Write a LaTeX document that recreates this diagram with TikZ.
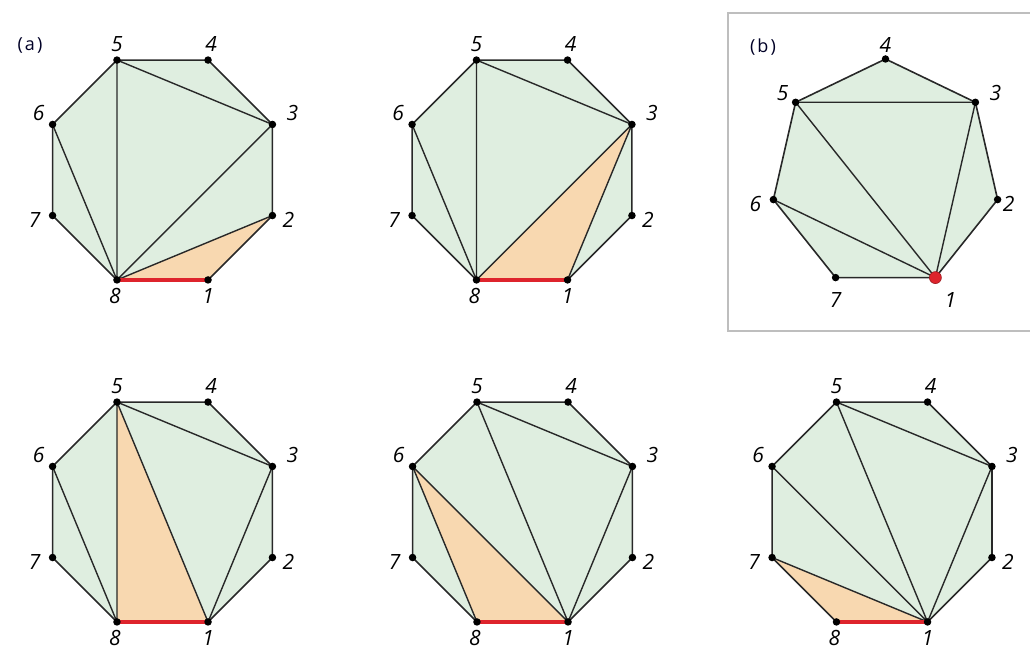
\documentclass[tikz,border=0pt]{standalone}
\usepackage{fontspec}
\usepackage{xcolor}
\usepackage{tikz}
\newfontfamily\labelfont{Open Sans}
\definecolor{polygreen}{RGB}{223,238,224}
\definecolor{triorange}{RGB}{248,216,176}
\definecolor{rootred}{RGB}{222,36,44}
\definecolor{edgegray}{RGB}{40,40,40}
\definecolor{framegray}{RGB}{190,190,190}

\begin{document}
\begin{tikzpicture}[
    x=1pt,y=1pt,
    region/.style={fill=polygreen},
    tri/.style={fill=triorange},
    chord/.style={draw=edgegray,line width=1.4pt},
    rim/.style={draw=edgegray,line width=1.6pt,line join=round},
    root/.style={draw=rootred,line width=4pt},
    dot/.style={circle,fill=black,inner sep=0pt,minimum size=7.5pt},
    reddot/.style={circle,fill=rootred,draw=rootred!70!black,line width=0.6pt,inner sep=0pt,minimum size=12pt},
    num/.style={font=\labelfont\itshape\fontsize{21}{24}\selectfont,inner sep=0pt},
    tag/.style={font=\labelfont\fontsize{18}{22}\selectfont,text=black!85!blue,inner sep=0pt},
    frame/.style={draw=framegray,line width=1.5pt}
]
\useasboundingbox (0,0) rectangle (1030,653);

% octagon corners
\foreach \p/\cx/\cy in {a/162.5/483, b/522/483, c/162.5/141, d/522.5/141, e/882/141}
  \foreach \k in {1,...,8}
    \path (\cx,\cy) ++(-112.5+45*\k:119) coordinate (\p\k);
% heptagon corners
\foreach \k in {1,...,7}
  \path (885.5,479) ++(90+51.4286*\k-205.7143:115) coordinate (h\k);

% box of (b)
\draw[frame] (1035,640) -- (728,640) -- (728,322) -- (1035,322);

% fills
\foreach \p in {a,b,c,d,e}
  \fill[region] (\p1) -- (\p2) -- (\p3) -- (\p4) -- (\p5) -- (\p6) -- (\p7) -- (\p8) -- cycle;
\fill[region] (h1) -- (h2) -- (h3) -- (h4) -- (h5) -- (h6) -- (h7) -- cycle;

\fill[tri] (a8) -- (a1) -- (a2) -- cycle;
\fill[tri] (b8) -- (b1) -- (b3) -- cycle;
\fill[tri] (c8) -- (c1) -- (c5) -- cycle;
\fill[tri] (d8) -- (d1) -- (d6) -- cycle;
\fill[tri] (e8) -- (e1) -- (e7) -- cycle;

% diagonals
\draw[chord] (a5) -- (a8) (a6) -- (a8) (a5) -- (a3) (a3) -- (a8) (a2) -- (a8);
\draw[chord] (b5) -- (b8) (b6) -- (b8) (b5) -- (b3) (b3) -- (b8) (b3) -- (b1);
\draw[chord] (c6) -- (c8) (c5) -- (c8) (c5) -- (c1) (c5) -- (c3) (c3) -- (c1);
\draw[chord] (d6) -- (d8) (d6) -- (d1) (d5) -- (d1) (d5) -- (d3) (d3) -- (d1);
\draw[chord] (e7) -- (e1) (e6) -- (e1) (e5) -- (e1) (e5) -- (e3) (e3) -- (e1);
\draw[chord] (h5) -- (h3) (h5) -- (h1) (h6) -- (h1) (h3) -- (h1);

% outlines
\foreach \p in {a,b,c,d,e}
  \draw[rim] (\p1) -- (\p2) -- (\p3) -- (\p4) -- (\p5) -- (\p6) -- (\p7) -- (\p8) -- cycle;
\draw[rim] (h1) -- (h2) -- (h3) -- (h4) -- (h5) -- (h6) -- (h7) -- cycle;

\foreach \p in {a,b,c,d,e}
  \draw[root] (\p8) -- (\p1);

% corner dots and numbers
\foreach \p in {a,b,c,d,e}
  \foreach \k/\dx/\dy in {1/0/-16, 2/16/-4, 3/20/11, 4/3/16, 5/0/16, 6/-14/11, 7/-18/-4, 8/-2/-16} {
    \node[dot] (\p d\k) at (\p\k) {};
    \path (\p\k) ++(\dx,\dy) node[num] (\p n\k) {\k};
  }
\foreach \k/\dx/\dy in {2/11/-4, 3/20/9, 4/0/14, 5/-13/9, 6/-18/-4, 7/0/-22} {
  \node[dot] (hd\k) at (h\k) {};
  \path (h\k) ++(\dx,\dy) node[num] (hn\k) {\k};
}
\node[reddot] (hd1) at (h1) {};
\path (h1) ++(15,-22) node[num] (hn1) {1};

\node[tag] (taga) at (30,607) {(\kern2pt a\kern2pt)};
\node[tag] (tagb) at (763,606) {(\kern2pt b\kern2pt)};
\end{tikzpicture}
\end{document}
